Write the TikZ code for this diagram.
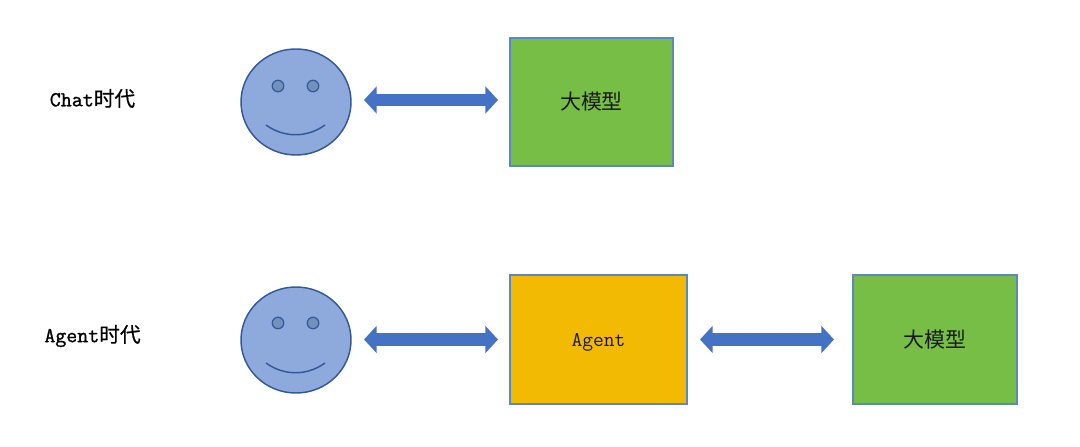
\documentclass[tikz,border=0pt]{standalone}
\usepackage{fontspec}
\usetikzlibrary{arrows.meta,shapes.geometric}
\newfontfamily\cjkf{Noto Sans CJK SC}
\newfontfamily\cjkb[FakeBold=0.6]{Noto Sans CJK SC}
\newfontfamily\latb[FakeBold=1.2]{Latin Modern Mono}
\definecolor{boxline}{HTML}{5F86C0}
\definecolor{grn}{HTML}{76BE45}
\definecolor{amber}{HTML}{F2BA02}
\definecolor{facefill}{HTML}{8EAADC}
\definecolor{faceline}{HTML}{33589A}
\definecolor{eyefill}{HTML}{7490BC}
\definecolor{arrowfill}{HTML}{4472C4}
\definecolor{ink}{HTML}{1A1A1A}
\tikzset{
  x=0.75pt,y=-0.75pt,
  box/.style={draw=boxline,line width=1.5pt,inner sep=0pt,outer sep=0pt,text=ink},
  facenode/.style={ellipse,draw=faceline,fill=facefill,line width=1.1pt,minimum width=110*0.75pt,minimum height=106*0.75pt,inner sep=0pt,outer sep=0pt},
  eye/.style={circle,draw=faceline,fill=eyefill,line width=0.9pt,minimum size=11.5*0.75pt,inner sep=0pt},
  smile/.style={draw=faceline,line width=1.1pt},
  era/.style={font=\latb\fontsize{16}{18}\selectfont,text=black,inner sep=0pt},
  fat/.style={draw=arrowfill,line width=9.5pt,{Triangle[length=9.5pt,width=20pt,fill=arrowfill]}-{Triangle[length=9.5pt,width=20pt,fill=arrowfill]},shorten <=9.75pt,shorten >=9pt},
  modeltxt/.style={font=\cjkf\fontsize{15.7}{18}\selectfont},
  agenttxt/.style={font=\ttfamily\fontsize{15.7}{18}\selectfont,text height=12pt,text depth=2pt}
}
\begin{document}
\begin{tikzpicture}
\useasboundingbox (0,0) rectangle (1080,446);
\fill[white] (0,0) rectangle (1080,446);
\node[era] (chat) at (92.5,98.5) {Chat{\cjkb\fontsize{15.5}{18}\selectfont 时代}};
\node[era] (agentera) at (92.5,336) {Agent{\cjkb\fontsize{15.5}{18}\selectfont 时代}};

\node[facenode] (face1) at (296,102) {};
\node[eye] (e1a) at (278,86) {};
\node[eye] (e1b) at (313,86) {};
\draw[smile] (266,125) .. controls (284,138) and (307,138) .. (325,125);

\node[facenode] (face2) at (296,340) {};
\node[eye] (e2a) at (278,323) {};
\node[eye] (e2b) at (313,323) {};
\draw[smile] (266,363) .. controls (284,376) and (307,376) .. (325,363);

\node[box,fill=grn,minimum width=163*0.75pt,minimum height=128*0.75pt,modeltxt] (m1) at (591.5,102) {大模型};
\node[box,fill=amber,minimum width=177*0.75pt,minimum height=129*0.75pt,agenttxt] (ag) at (598.5,339.5) {Agent};
\node[box,fill=grn,minimum width=164*0.75pt,minimum height=129*0.75pt,modeltxt] (m2) at (935,339.5) {大模型};

\draw[fat] ([yshift=1.5pt]face1.east) -- ([yshift=1.5pt]m1.west);
\draw[fat] (face2.east |- ag.west) -- (ag.west);
\draw[fat,shorten >=14.25pt] (ag.east) -- (m2.west);
\end{tikzpicture}
\end{document}
